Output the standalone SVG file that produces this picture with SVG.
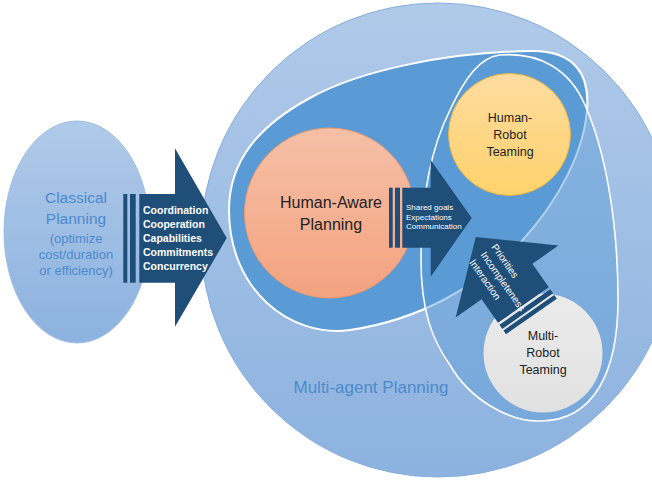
<svg xmlns="http://www.w3.org/2000/svg" width="652" height="483" viewBox="0 0 652 483">
<defs>
  <linearGradient id="gBlue" x1="0" y1="0" x2="0" y2="1">
    <stop offset="0" stop-color="#b0cae9"/>
    <stop offset="1" stop-color="#8cb2df"/>
  </linearGradient>
  <linearGradient id="gSalmon" x1="0" y1="0" x2="0" y2="1">
    <stop offset="0" stop-color="#f5c0a7"/>
    <stop offset="1" stop-color="#f4a27f"/>
  </linearGradient>
  <linearGradient id="gGold" x1="0" y1="0" x2="0" y2="1">
    <stop offset="0" stop-color="#fedc9f"/>
    <stop offset="1" stop-color="#fed26c"/>
  </linearGradient>
  <linearGradient id="gGray" x1="0" y1="0" x2="0" y2="1">
    <stop offset="0" stop-color="#ebebeb"/>
    <stop offset="1" stop-color="#e1e1e1"/>
  </linearGradient>
</defs>
<style>
  text{font-family:"Liberation Sans",Arial,sans-serif}
  .arrow{fill:#1f4e79}
  .ct{text-anchor:middle;fill:#222}
  .blue{fill:#4d8acd;text-anchor:middle}
  .wb{fill:#fff;font-weight:bold;font-size:10.5px}
  .ws{fill:#fff;font-size:8px}
  .wm{fill:#fff;font-size:10px}
</style>

<g id="classical-planning">
  <ellipse cx="77" cy="232" rx="73" ry="111" fill="url(#gBlue)" stroke="#9dbde4" stroke-width="1"/>
  <text class="blue" x="76" y="203" font-size="15.5">Classical</text>
  <text class="blue" x="76" y="224" font-size="15.5">Planning</text>
  <text class="blue" x="76" y="242.5" font-size="13">(optimize</text>
  <text class="blue" x="76" y="258.5" font-size="13">cost/duration</text>
  <text class="blue" x="76" y="275" font-size="13">or efficiency)</text>
</g>

<g id="multi-agent-planning">
  <circle cx="438" cy="240" r="237" fill="url(#gBlue)" stroke="#86addc" stroke-width="1"/>
  <text class="blue" x="371" y="393" font-size="17">Multi-agent Planning</text>
</g>

<g id="human-aware-region">
  <path d="M229,210 C229,160 260,125 310,98 C360,70 450,52 530,51 C575,50 590,75 587,110 C584,150 560,200 520,243 C480,285 420,320 350,330 C290,338 229,290 229,210 Z" fill="#5b9bd5" stroke="#ffffff" stroke-width="2"/>
</g>

<g id="teaming-region">
  <path d="M500,55 C540,52 570,70 585,105 C605,150 618,220 618,300 C618,370 595,421 540,421 C510,422 470,400 450,365 C432,340 421,310 421,260 C421,200 430,150 450,110 C465,78 480,57 500,55 Z" fill="#5b9bd5" fill-opacity="0.45" stroke="#ffffff" stroke-width="1.6"/>
</g>

<g id="human-aware-planning">
  <circle cx="329.5" cy="213" r="85" fill="url(#gSalmon)" stroke="#ec9a6e" stroke-width="1"/>
  <text class="ct" x="331" y="208" font-size="16">Human-Aware</text>
  <text class="ct" x="331" y="230" font-size="16">Planning</text>
</g>

<g id="human-robot-teaming">
  <circle cx="509.5" cy="134.5" r="61" fill="url(#gGold)" stroke="#eab440" stroke-width="1"/>
  <text class="ct" x="510" y="122" font-size="12.5">Human-</text>
  <text class="ct" x="510" y="139" font-size="12.5">Robot</text>
  <text class="ct" x="510" y="155.5" font-size="12.5">Teaming</text>
</g>

<g id="multi-robot-teaming">
  <circle cx="543" cy="353" r="59.5" fill="url(#gGray)"/>
  <text class="ct" x="543" y="340" font-size="12.5">Multi-</text>
  <text class="ct" x="543" y="357" font-size="12.5">Robot</text>
  <text class="ct" x="543" y="373.5" font-size="12.5">Teaming</text>
</g>

<g id="connectors">
  <g id="arrow-classical-to-multiagent">
    <rect class="arrow" x="123.3" y="194" width="4" height="88.7"/>
    <rect class="arrow" x="130" y="194" width="5.7" height="88.7"/>
    <path class="arrow" d="M139.3,194 H175 V148.3 L226.7,238 L175,326.7 V282.7 H139.3 Z"/>
    <text class="wb" x="143" y="213.5">Coordination</text>
    <text class="wb" x="143" y="227.5">Cooperation</text>
    <text class="wb" x="143" y="241.7">Capabilities</text>
    <text class="wb" x="143" y="256">Commitments</text>
    <text class="wb" x="143" y="270">Concurrency</text>
  </g>
  <g id="arrow-humanaware-to-humanrobot">
    <rect class="arrow" x="389" y="187.7" width="3.7" height="60"/>
    <rect class="arrow" x="395" y="187.7" width="5" height="60"/>
    <path class="arrow" d="M402.3,187.7 H430.7 V160 L471.7,218 L430.7,276.7 V247.7 H402.3 Z"/>
    <text class="ws" x="406" y="210">Shared goals</text>
    <text class="ws" x="406" y="219.6">Expectations</text>
    <text class="ws" x="406" y="229.3">Communication</text>
  </g>
  <g id="arrow-multirobot-to-humanrobot" transform="translate(475.8,237) rotate(55)">
    <path class="arrow" d="M0,0 L54.4,-62.7 V-31 H83 V31 H54.4 V62.7 Z"/>
    <rect class="arrow" x="85.5" y="-31" width="5" height="62"/>
    <rect class="arrow" x="92.5" y="-31" width="4.5" height="62"/>
    <text class="wm" x="17" y="-6.8">Priorities</text>
    <text class="wm" x="17" y="6.6">Incompleteness</text>
    <text class="wm" x="17" y="20.2">Interaction</text>
  </g>
</g>
</svg>
